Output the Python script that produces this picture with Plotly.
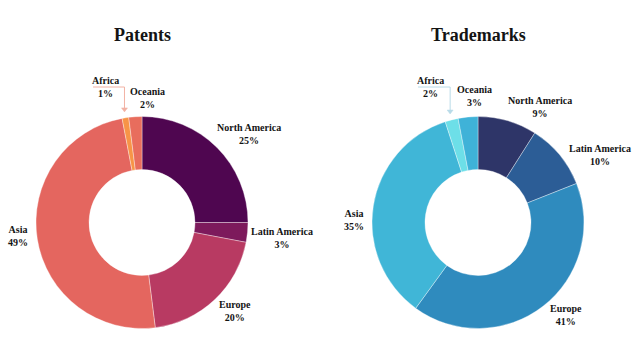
import math
import plotly.graph_objects as go

# ---------------- data ----------------
regions = ["North America", "Latin America", "Europe", "Asia", "Africa", "Oceania"]
patents = [25, 3, 20, 49, 1, 2]
trademarks = [9, 10, 41, 35, 2, 3]
titles = ["Patents", "Trademarks"]

# ---------------- style ----------------
W, H = 640, 362
CENTERS = [(142, 222.5), (478, 222.5)]
RADIUS = 106
HOLE = 0.5
TITLE_Y = 35
patent_colors = ["#4f0650", "#7d1a5c", "#b83a62", "#e4665f", "#f79447", "#e86d5d"]
trademark_colors = ["#2e3568", "#2c5d96", "#2f8bbe", "#40b6d7", "#6ddfe8", "#3fb2d8"]
leader_colors = ["#f2b2a4", "#b9dbe8"]
FONT = "Liberation Serif"
TEXT_COLOR = "#141414"
# label nudges (px) from the outer edge point at each slice's mid angle
NUDGES = [
    {"North America": (32, -14), "Latin America": (34.5, 6), "Europe": (20.4, 11.7),
     "Asia": (-19.3, -3.1), "Africa": (-20.4, -30.8), "Oceania": (11.7, -18.7)},
    {"North America": (32.4, -13.7), "Latin America": (40.3, -0.4), "Europe": (23, 8.7),
     "Asia": (-19.3, 13.6), "Africa": (-21.6, -32.8), "Oceania": (6, -21)},
]
LEADER_LABEL = "Africa"


def px(x):
    return x / W


def py(y):
    return 1 - y / H


fig = go.Figure()
annotations = []
shapes = []

for i, (values, cols) in enumerate([(patents, patent_colors), (trademarks, trademark_colors)]):
    cx, cy = CENTERS[i]
    fig.add_trace(go.Pie(
        labels=regions, values=values, hole=HOLE, sort=False, direction="clockwise",
        rotation=0, textinfo="none", hoverinfo="skip", showlegend=False,
        marker=dict(colors=cols, line=dict(color="rgba(255,255,255,0.6)", width=0.6)),
        domain=dict(x=[px(cx - RADIUS), px(cx + RADIUS)], y=[py(cy + RADIUS), py(cy - RADIUS)]),
    ))
    annotations.append(dict(
        text=f"<b>{titles[i]}</b>", x=px(cx), y=py(TITLE_Y), xref="paper", yref="paper",
        xanchor="center", yanchor="middle", showarrow=False,
        font=dict(family=FONT, size=18, color=TEXT_COLOR),
    ))
    total = sum(values)
    cum = 0
    for name, v in zip(regions, values):
        mid = (cum + v / 2) / total * 2 * math.pi
        cum += v
        sx, sy = math.sin(mid), -math.cos(mid)
        ex, ey = cx + RADIUS * sx, cy + RADIUS * sy
        dx, dy = NUDGES[i][name]
        lx, ly = ex + dx, ey + dy
        annotations.append(dict(
            text=f"<b>{name}</b><br><b>{v}%</b>", x=px(lx), y=py(ly),
            xref="paper", yref="paper", xanchor="center", yanchor="middle",
            showarrow=False, align="center",
            font=dict(family=FONT, size=10, color=TEXT_COLOR),
        ))
        if name == LEADER_LABEL:
            # leader: horizontal under the first line, then down to the slice
            tipx = cx + (RADIUS + 6) * sx
            tipy = cy + (RADIUS + 6) * sy
            line_y = ly
            left_x = lx - 12
            c = leader_colors[i]
            shapes.append(dict(type="line", xref="paper", yref="paper",
                               x0=px(left_x), y0=py(line_y), x1=px(tipx), y1=py(line_y),
                               line=dict(color=c, width=1)))
            shapes.append(dict(type="line", xref="paper", yref="paper",
                               x0=px(tipx), y0=py(line_y), x1=px(tipx), y1=py(tipy - 1),
                               line=dict(color=c, width=1)))
            shapes.append(dict(type="path", xref="paper", yref="paper",
                               path=(f"M {px(tipx - 3)} {py(tipy - 4)} L {px(tipx + 3)} {py(tipy - 4)} "
                                     f"L {px(tipx)} {py(tipy)} Z"),
                               fillcolor=c, line=dict(color=c, width=0.5)))

fig.update_layout(
    width=W, height=H, margin=dict(l=0, r=0, t=0, b=0),
    paper_bgcolor="white", plot_bgcolor="white",
    annotations=annotations, shapes=shapes,
)
fig.write_html("out.html", config={"displayModeBar": False},
               post_script="document.body.style.margin='0';")
